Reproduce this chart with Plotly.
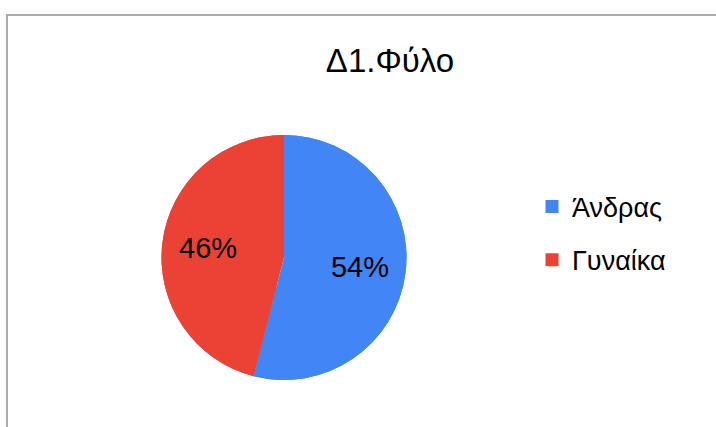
import plotly.graph_objects as go

labels = ["Άνδρας", "Γυναίκα"]
values = [54, 46]
colors = ["#4285F4", "#EA4335"]
title_text = "Δ1.Φύλο"

W, H = 716, 427
FONT = "Arial, Liberation Sans, sans-serif"
pie_domain = dict(x=[161 / W, 407 / W], y=[1 - 380 / H, 1 - 135 / H])

fig = go.Figure()
# full pie (slices)
fig.add_trace(go.Pie(
    labels=labels, values=values,
    marker=dict(colors=colors, line=dict(width=0)),
    sort=False, direction="clockwise", rotation=0,
    textinfo="none", domain=pie_domain,
    showlegend=False, hoverinfo="label+percent",
))
# ring on top carrying the percentage labels (pushes labels outward)
fig.add_trace(go.Pie(
    labels=labels, values=values, hole=0.25,
    marker=dict(colors=colors, line=dict(width=0)),
    sort=False, direction="clockwise", rotation=0,
    textinfo="percent", textposition="inside",
    insidetextorientation="horizontal",
    textfont=dict(family=FONT, size=29, color="#000000"),
    domain=pie_domain,
    showlegend=False, hoverinfo="label+percent",
))
# legend entries
for i, (lab, col) in enumerate(zip(labels, colors)):
    fig.add_trace(go.Scatter(
        x=[None], y=[None], mode="markers", name=lab,
        marker=dict(symbol="square", size=13, color=col),
        legendgroup=f"g{i}", showlegend=True,
    ))

fig.update_layout(
    width=W, height=H,
    margin=dict(l=0, r=0, t=0, b=0),
    paper_bgcolor="white", plot_bgcolor="white",
    xaxis=dict(visible=False), yaxis=dict(visible=False),
    title=dict(text=title_text, x=390 / W, xanchor="center", xref="paper",
               y=1 - 60 / H, yanchor="middle", yref="paper",
               font=dict(family=FONT, size=33, color="#000000")),
    legend=dict(x=532 / W, xanchor="left", y=1 - 233.5 / H, yanchor="middle",
                font=dict(family=FONT, size=27, color="#000000"),
                tracegroupgap=15, bgcolor="rgba(0,0,0,0)"),
    shapes=[dict(type="rect", xref="paper", yref="paper",
                 x0=7 / W, x1=1.05, y0=-0.05, y1=1 - 15 / H,
                 line=dict(color="#aaaaaa", width=2), layer="below")],
    showlegend=True,
)
fig.write_html("out.html", config={"displayModeBar": False},
               post_script="document.body.style.margin='0px';")
